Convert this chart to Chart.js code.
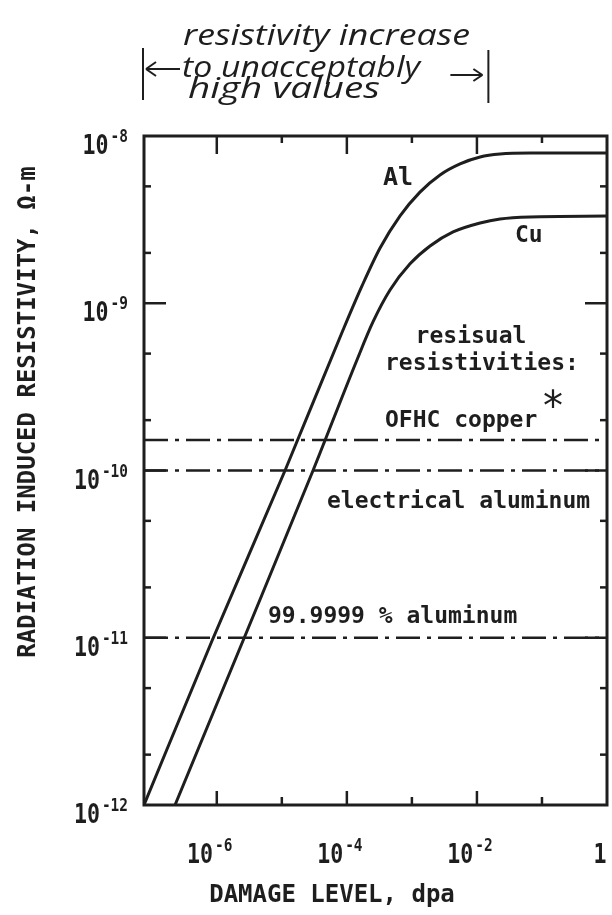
<!DOCTYPE html>
<html>
<head>
<meta charset="utf-8">
<title>Radiation induced resistivity vs damage level</title>
<script src="https://cdn.jsdelivr.net/npm/chart.js@4.4.0/dist/chart.umd.min.js"></script>
<style>
  html, body { margin: 0; padding: 0; background: #fff; }
  #chart { display: block; }
</style>
</head>
<body>
<canvas id="chart" width="612" height="915"></canvas>
<script>
// Curves (dpa -> resistivity, ohm-m)
const alDpa = [7.6e-8, 8.45e-7, 1.12e-5, 8.73e-5, 1.71e-4, 3.24e-4, 6.58e-4, 1.33e-3, 2.71e-3, 5.5e-3, 1.12e-2, 2.27e-2, 6.56e-2, 1];
const alRho = [1e-12, 9.6e-12, 1e-10, 6.92e-10, 1.27e-9, 2.14e-9, 3.33e-9, 4.62e-9, 5.85e-9, 6.81e-9, 7.49e-9, 7.8e-9, 7.9e-9, 7.9e-9];

const cuDpa = [2.28e-7, 2.53e-6, 3.02e-5, 1.43e-4, 2.52e-4, 4.61e-4, 9.36e-4, 1.9e-3, 4.3e-3, 1.12e-2, 2.27e-2, 6.56e-2, 1];
const cuRho = [1e-12, 9.6e-12, 1e-10, 4.58e-10, 7.73e-10, 1.2e-9, 1.72e-9, 2.2e-9, 2.67e-9, 3.02e-9, 3.19e-9, 3.28e-9, 3.32e-9];

// Residual resistivities (horizontal dash-dot lines)
const residualNames = ['OFHC copper', 'electrical aluminum', '99.9999 % aluminum'];
const residualValues = [1.52e-10, 1e-10, 1e-11];

// Axes
const xRange = [7.6e-8, 1];
const yRange = [1e-12, 1e-8];
const xMajorTicks = [1e-6, 1e-4, 1e-2, 1];
const xMinorTicks = [1e-5, 1e-3, 1e-1];
const yMajorTicks = [1e-12, 1e-11, 1e-10, 1e-9, 1e-8];
const yMinorTicks = [2e-12, 5e-12, 2e-11, 5e-11, 2e-10, 5e-10, 2e-9, 5e-9];

// dpa span of the hand-written note at the top
const unacceptableRange = [7.6e-8, 1.5e-2];

const INK = '#1e1e1e';
const MONO = '"DejaVu Sans Mono", monospace';
const TICK_FONT = 'bold 27px ' + MONO;
const SUP_FONT = 'bold 17px ' + MONO;
const TICK_SX = 0.8;
const SUP_SX = 0.85;
const LABEL_FONT = 'bold 23px ' + MONO;
const HAND_FONT = 'italic 29px "Open Sans", sans-serif';

function toPoints(xs, ys) {
  return xs.map((x, i) => ({ x: x, y: ys[i] }));
}

function text(ctx, str, x, y, font, align = 'left', sx = 1) {
  ctx.save();
  ctx.font = font;
  ctx.textAlign = align;
  ctx.textBaseline = 'alphabetic';
  ctx.translate(x, y);
  ctx.scale(sx, 1);
  ctx.fillText(str, 0, 0);
  ctx.restore();
}

// hand lettering is stretched to the width it takes in the scan
function handText(ctx, str, left, right, baseline) {
  ctx.font = HAND_FONT;
  const sx = (right - left) / ctx.measureText(str).width;
  text(ctx, str, left, baseline, HAND_FONT, 'left', sx);
}

function powerLabel(ctx, value, x, baseline, align) {
  const exp = Math.round(Math.log10(value));
  const base = exp === 0 ? '1' : '10';
  const sup = exp === 0 ? '' : '-' + Math.abs(exp);
  ctx.font = TICK_FONT;
  const wb = ctx.measureText(base).width * TICK_SX;
  ctx.font = SUP_FONT;
  const ws = sup ? ctx.measureText(sup).width * SUP_SX + 2 : 0;
  const left = align === 'right' ? x - wb - ws : x - (wb + ws) / 2;
  text(ctx, base, left, baseline, TICK_FONT, 'left', TICK_SX);
  if (sup) text(ctx, sup, left + wb + 2, baseline - 12, SUP_FONT, 'left', SUP_SX);
}

function line(ctx, x1, y1, x2, y2) {
  ctx.beginPath();
  ctx.moveTo(x1, y1);
  ctx.lineTo(x2, y2);
  ctx.stroke();
}

function setTicks(majors, minors) {
  return scale => {
    scale.ticks = majors.map(v => ({ value: v, major: true }))
      .concat(minors.map(v => ({ value: v, major: false })));
  };
}

// Frame, inward ticks, tick labels and the typed/hand-written notes
const framePlugin = {
  id: 'frame',
  afterDraw(chart) {
    const { ctx, chartArea: a, scales: { x, y } } = chart;
    ctx.save();
    ctx.strokeStyle = INK;
    ctx.fillStyle = INK;
    ctx.lineCap = 'butt';

    ctx.lineWidth = 3;
    ctx.strokeRect(a.left, a.top, a.right - a.left, a.bottom - a.top);

    ctx.lineWidth = 2.5;
    x.ticks.forEach(t => {
      const px = x.getPixelForValue(t.value);
      if (px > a.left + 2 && px < a.right - 2) {
        line(ctx, px, a.bottom, px, a.bottom - (t.major ? 14 : 8));
        line(ctx, px, a.top, px, a.top + (t.major ? 18 : 7));
      }
      if (t.major) powerLabel(ctx, t.value, px - 7, 863, 'center');
    });
    y.ticks.forEach(t => {
      const py = y.getPixelForValue(t.value);
      if (py > a.top + 2 && py < a.bottom - 2) {
        line(ctx, a.left, py, a.left + (t.major ? 22 : 7), py);
        line(ctx, a.right, py, a.right - (t.major ? 22 : 7), py);
      }
      if (t.major) powerLabel(ctx, t.value, 128, py + 18, 'right');
    });

    // axis titles
    text(ctx, 'DAMAGE LEVEL, dpa', 332, 902, 'bold 24px ' + MONO, 'center');
    ctx.save();
    ctx.translate(35, 412);
    ctx.rotate(-Math.PI / 2);
    text(ctx, 'RADIATION INDUCED RESISTIVITY, \u03A9-m', 0, 0, 'bold 24px ' + MONO, 'center');
    ctx.restore();

    // curve and line labels
    text(ctx, 'Al', 383, 185, 'bold 25px ' + MONO, 'left');
    text(ctx, 'Cu', 515, 242, LABEL_FONT, 'left');
    text(ctx, 'resisual', 471, 343, LABEL_FONT, 'center');
    text(ctx, 'resistivities:', 385, 370, LABEL_FONT, 'left');
    text(ctx, residualNames[0], 385, 427, LABEL_FONT, 'left');
    text(ctx, '*', 553, 420, '40px "DejaVu Sans", sans-serif', 'center');
    text(ctx, residualNames[1], 327, 508, LABEL_FONT, 'left');
    text(ctx, residualNames[2], 268, 623, LABEL_FONT, 'left');

    // hand-written note with range arrows
    handText(ctx, 'resistivity increase', 183, 470, 45);
    handText(ctx, 'to unacceptably', 182, 420, 77);
    handText(ctx, 'high values', 188, 380, 98);
    const xl = x.getPixelForValue(unacceptableRange[0]) - 1;
    const xr = x.getPixelForValue(unacceptableRange[1]);
    ctx.lineWidth = 2;
    line(ctx, xl, 48, xl, 100);
    line(ctx, xr, 50, xr, 103);
    line(ctx, xl + 3, 69, xl + 37, 69);
    line(ctx, xl + 3, 69, xl + 13, 62);
    line(ctx, xl + 3, 69, xl + 13, 76);
    line(ctx, xr - 38, 75, xr - 6, 75);
    line(ctx, xr - 6, 75, xr - 15, 69);
    line(ctx, xr - 6, 75, xr - 15, 81);
    ctx.restore();
  }
};

const curveStyle = {
  borderColor: INK,
  borderWidth: 3,
  pointRadius: 0,
  fill: false,
  cubicInterpolationMode: 'monotone'
};

const datasets = [
  Object.assign({ label: 'Al', data: toPoints(alDpa, alRho) }, curveStyle),
  Object.assign({ label: 'Cu', data: toPoints(cuDpa, cuRho) }, curveStyle)
].concat(residualValues.map((v, i) => ({
  label: residualNames[i],
  data: toPoints(xRange, [v, v]),
  borderColor: INK,
  borderWidth: 2.5,
  borderDash: [24, 7, 4, 7],
  pointRadius: 0,
  fill: false
})));

new Chart(document.getElementById('chart'), {
  type: 'line',
  data: { datasets: datasets },
  options: {
    responsive: false,
    animation: false,
    events: [],
    layout: { padding: { left: 144, right: 5, top: 136, bottom: 110 } },
    plugins: {
      legend: { display: false },
      tooltip: { enabled: false }
    },
    scales: {
      x: {
        type: 'logarithmic',
        min: xRange[0],
        max: xRange[1],
        afterBuildTicks: setTicks(xMajorTicks, xMinorTicks),
        afterFit: s => { s.height = 0; },
        ticks: { display: false },
        grid: { display: false },
        border: { display: false }
      },
      y: {
        type: 'logarithmic',
        min: yRange[0],
        max: yRange[1],
        afterBuildTicks: setTicks(yMajorTicks, yMinorTicks),
        afterFit: s => { s.width = 0; },
        ticks: { display: false },
        grid: { display: false },
        border: { display: false }
      }
    }
  },
  plugins: [framePlugin]
});
</script>
</body>
</html>
